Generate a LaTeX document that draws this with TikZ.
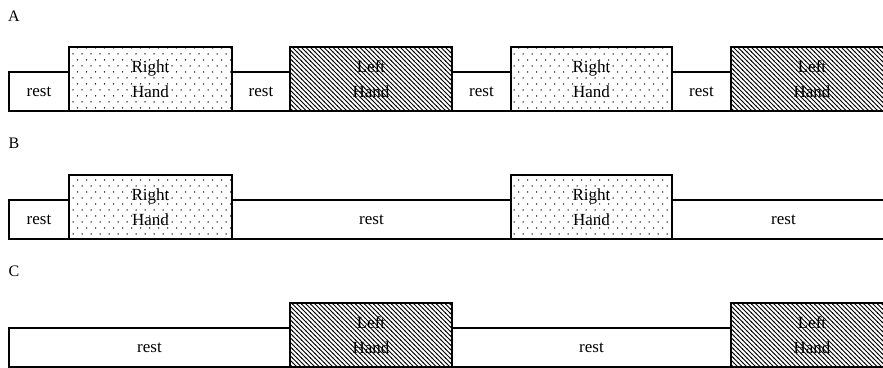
\documentclass[tikz,border=0pt]{standalone}
\usepackage{fontspec}
\setmainfont{Liberation Serif}
\usetikzlibrary{patterns}
\pgfdeclarepatternformonly{handdots}{\pgfqpoint{-1pt}{-1pt}}{\pgfqpoint{9pt}{12pt}}{\pgfqpoint{9pt}{12pt}}{%
  \pgfpathcircle{\pgfqpoint{1pt}{1pt}}{0.75pt}%
  \pgfpathcircle{\pgfqpoint{5.5pt}{7pt}}{0.75pt}%
  \pgfusepath{fill}}
\pgfdeclarepatternformonly{handhatch}{\pgfqpoint{-0.5pt}{-0.5pt}}{\pgfqpoint{5pt}{5pt}}{\pgfqpoint{4.5pt}{4.5pt}}{%
  \pgfsetlinewidth{0.75pt}%
  \pgfpathmoveto{\pgfqpoint{-0.5pt}{5pt}}%
  \pgfpathlineto{\pgfqpoint{5pt}{-0.5pt}}%
  \pgfusepath{stroke}}
\tikzset{
  seg/.style={draw=black, line width=1.2pt, inner sep=0pt, outer sep=0pt, anchor=north west,
    font=\fontsize{17}{25}\selectfont, align=center},
  restseg/.style={seg, minimum height=39pt},
  rhseg/.style={seg, minimum height=64pt, pattern=handdots},
  lhseg/.style={seg, minimum height=64pt, pattern=handhatch},
  rowlabel/.style={font=\fontsize{16}{18}\selectfont, inner sep=0pt}
}
\begin{document}
\begin{tikzpicture}[x=1pt, y=-1pt]
\clip (0,0) rectangle (883,367);
\fill[white] (0,0) rectangle (883,367);
% Row A
\node[rowlabel] (la) at (14,16) {A};
\node[restseg, minimum width=60pt] (a1) at (9,72) {rest};
\node[restseg, minimum width=58pt] (a3) at (232,72) {rest};
\node[restseg, minimum width=59pt] (a5) at (452,72) {rest};
\node[restseg, minimum width=59pt] (a7) at (672,72) {rest};
\node[rhseg, minimum width=163pt] (a2) at (69,47) {Right\\Hand};
\node[lhseg, minimum width=162pt] (a4) at (290,47) {Left\\Hand};
\node[rhseg, minimum width=161pt] (a6) at (511,47) {Right\\Hand};
\node[lhseg, minimum width=162pt] (a8) at (731,47) {Left\\Hand};
% Row B
\node[rowlabel] (lb) at (14,143.5) {B};
\node[restseg, minimum width=60pt] (b1) at (9,200) {rest};
\node[restseg, minimum width=279pt] (b3) at (232,200) {rest};
\node[restseg, minimum width=223pt] (b5) at (672,200) {rest};
\node[rhseg, minimum width=163pt] (b2) at (69,175) {Right\\Hand};
\node[rhseg, minimum width=161pt] (b4) at (511,175) {Right\\Hand};
% Row C
\node[rowlabel] (lc) at (14,271) {C};
\node[restseg, minimum width=281pt] (c1) at (9,328) {rest};
\node[restseg, minimum width=279pt] (c3) at (452,328) {rest};
\node[lhseg, minimum width=162pt] (c2) at (290,303) {Left\\Hand};
\node[lhseg, minimum width=162pt] (c4) at (731,303) {Left\\Hand};
\end{tikzpicture}
\end{document}
